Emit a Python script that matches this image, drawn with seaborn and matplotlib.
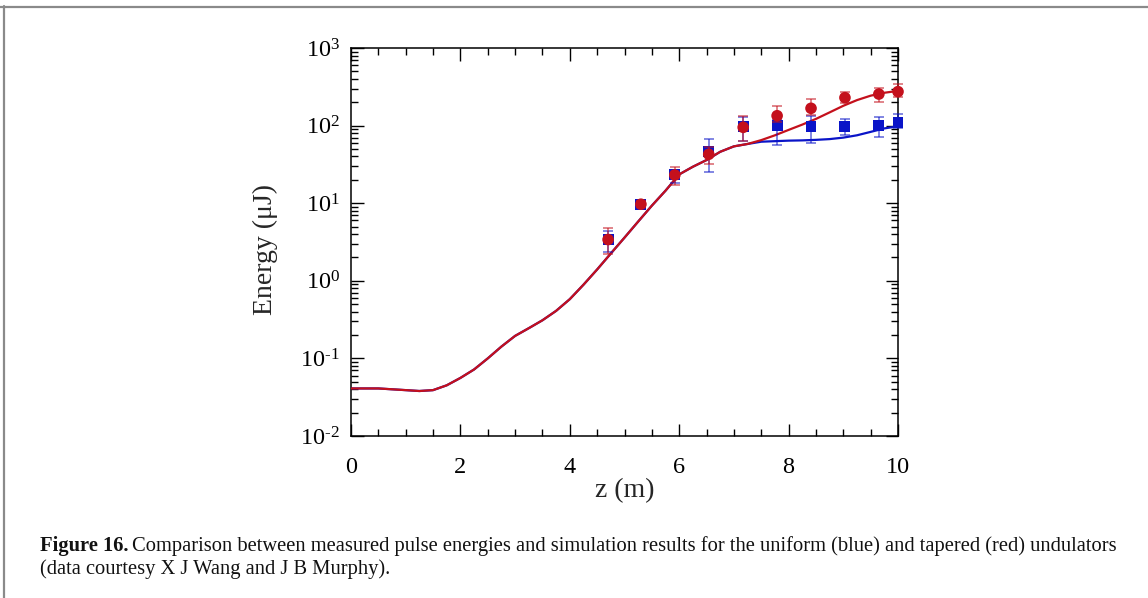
import matplotlib
matplotlib.use("Agg")
import matplotlib.pyplot as plt
import seaborn as sns
import numpy as np
from matplotlib.ticker import MultipleLocator, LogLocator, FuncFormatter, NullFormatter
from matplotlib.lines import Line2D

# ---- measured pulse energies (uJ) ----
z_meas = [4.70, 5.30, 5.92, 6.54, 7.17, 7.79, 8.41, 9.03, 9.65, 10.0]

uniform_E = [3.4, 9.7, 23.6, 46.0, 97.0, 99.0, 97.0, 97.0, 99.0, 110.0]
uniform_lo = [2.37, 8.9, 18.4, 25.5, 64.0, 57.0, 60.0, 76.0, 71.0, 93.0]
uniform_hi = [4.38, 10.6, 26.8, 67.0, 129.0, 118.0, 134.0, 120.0, 130.0, 140.0]

tapered_E = [3.4, 9.7, 23.1, 42.7, 95.0, 134.0, 167.0, 229.0, 255.0, 274.0]
tapered_lo = [2.21, 8.9, 17.0, 31.7, 63.0, 111.0, 137.0, 194.0, 200.0, 236.0]
tapered_hi = [4.79, 10.6, 29.0, 52.5, 133.0, 180.0, 220.0, 274.0, 302.0, 340.0]

# ---- simulated energy along the undulator ----
z_sim = [0.0, 0.5, 1.0, 1.25, 1.5, 1.75, 2.0, 2.25, 2.5, 2.75, 3.0, 3.25, 3.5,
         3.75, 4.0, 4.25, 4.5, 4.75, 5.0, 5.25, 5.5, 5.75, 6.0, 6.25, 6.5,
         6.75, 7.0, 7.25, 7.5, 7.75, 8.0, 8.25, 8.5, 8.75, 9.0, 9.25, 9.5,
         9.75, 10.0]
uniform_sim = [0.041, 0.041, 0.039, 0.038, 0.039, 0.045, 0.056, 0.072, 0.100,
               0.142, 0.195, 0.245, 0.31, 0.41, 0.58, 0.89, 1.40, 2.25, 3.6,
               5.8, 9.3, 14.5, 23.5, 29.5, 36.0, 46.0, 54.0, 58.0, 62.0, 63.0,
               64.0, 64.5, 65.5, 67.0, 70.0, 75.0, 83.0, 92.0, 98.0]
tapered_sim = [0.041, 0.041, 0.039, 0.038, 0.039, 0.045, 0.056, 0.072, 0.100,
               0.142, 0.195, 0.245, 0.31, 0.41, 0.58, 0.89, 1.40, 2.25, 3.6,
               5.8, 9.3, 14.5, 23.5, 29.5, 36.0, 46.0, 54.0, 58.0, 65.0, 75.0,
               88.0, 103.0, 122.0, 148.0, 180.0, 213.0, 243.0, 265.0, 280.0]

x_ticks = [0, 2, 4, 6, 8, 10]

BLUE = "#0a14c8"
RED = "#c4101c"

sns.set_theme(style="ticks")
plt.rcParams["font.family"] = ["Liberation Serif", "DejaVu Serif"]
plt.rcParams["mathtext.fontset"] = "custom"
plt.rcParams["mathtext.rm"] = "Liberation Serif"
plt.rcParams["axes.unicode_minus"] = False

fig = plt.figure(figsize=(11.48, 5.98), dpi=100)
ax = fig.add_axes([351 / 1148, 1 - 436 / 598, 547 / 1148, 388 / 598])
ax.set_yscale("log")

# simulation curves
sns.lineplot(x=z_sim, y=uniform_sim, color=BLUE, linewidth=1.6, ax=ax, zorder=2)
sns.lineplot(x=z_sim, y=tapered_sim, color=RED, linewidth=1.6, ax=ax, zorder=3)

# measurements with error bars
u = np.array(uniform_E)
t = np.array(tapered_E)
eb_u = ax.errorbar(z_meas, u, yerr=[u - np.array(uniform_lo), np.array(uniform_hi) - u],
                   fmt="none", ecolor=BLUE, alpha=0.65, elinewidth=1.1, capsize=3.8,
                   capthick=1.1, zorder=4)
sns.scatterplot(x=z_meas, y=uniform_E, marker="s", s=62, color=BLUE,
                edgecolor="none", linewidth=0, ax=ax, zorder=5)
eb_t = ax.errorbar(z_meas, t, yerr=[t - np.array(tapered_lo), np.array(tapered_hi) - t],
                   fmt="none", ecolor=RED, alpha=0.65, elinewidth=1.1, capsize=3.8,
                   capthick=1.1, zorder=6)
sns.scatterplot(x=z_meas, y=tapered_E, marker="o", s=70, color=RED,
                edgecolor="none", linewidth=0, ax=ax, zorder=7)

# let the markers at the right edge spill over the frame
for coll in ax.collections:
    coll.set_clip_on(False)
for eb in (eb_u, eb_t):
    for part in eb.lines[1]:
        part.set_clip_on(False)
    for part in eb.lines[2]:
        part.set_clip_on(False)

ax.set_xlim(0, 10)
ax.set_ylim(1e-2, 1e3)
ax.xaxis.set_minor_locator(MultipleLocator(0.5))
ax.set_xticks(x_ticks)
ax.set_xticklabels([str(v) for v in x_ticks])
ax.yaxis.set_major_locator(LogLocator(base=10, numticks=10))
ax.yaxis.set_minor_locator(LogLocator(base=10, subs=np.arange(2, 10), numticks=10))


def decade_label(v, pos):
    k = int(round(np.log10(v)))
    if k < 0:
        return r"$\mathregular{10^{\text{-}%d}}$" % (-k)
    return r"$\mathregular{10^{%d}}$" % k


ax.yaxis.set_major_formatter(FuncFormatter(decade_label))
ax.yaxis.set_minor_formatter(NullFormatter())

for s in ax.spines.values():
    s.set_linewidth(1.1)
    s.set_color("black")
ax.tick_params(which="both", direction="in", top=True, right=True, colors="black")
ax.tick_params(which="major", length=9, width=1.0, labelsize=17.5)
ax.tick_params(which="minor", length=4.7, width=1.0)
ax.tick_params(axis="x", which="major", pad=15)
ax.tick_params(axis="y", which="major", pad=8)

ax.set_xlabel("z (m)", fontsize=20)
ax.set_ylabel("Energy (\u03bcJ)", fontsize=20)
ax.xaxis.set_label_coords(0.5, -0.14)
ax.xaxis.label.set_verticalalignment("center")
ax.yaxis.set_label_coords(-0.157, 0.48)
ax.yaxis.label.set_verticalalignment("center")

# page frame (top and left rules)
fig.add_artist(Line2D([0, 1], [1 - 7 / 598, 1 - 7 / 598], transform=fig.transFigure,
                      color="#8a8a8a", linewidth=1.6))
fig.add_artist(Line2D([4 / 1148, 4 / 1148], [0, 1 - 6 / 598], transform=fig.transFigure,
                      color="#8a8a8a", linewidth=1.6))

# caption
cap_size = 14.8
y1 = 1 - 551 / 598
y2 = 1 - 574 / 598
lead = fig.text(40 / 1148, y1, "Figure 16.", fontsize=cap_size, fontweight="bold",
                va="baseline", ha="left", color="#111111")
fig.canvas.draw()
bb = lead.get_window_extent()
rest = fig.text((bb.x1 + 4) / 1148, y1,
                "Comparison between measured pulse energies and simulation results for the "
                "uniform (blue) and tapered (red) undulators",
                fontsize=cap_size, va="baseline", ha="left", color="#111111")
fig.text(40 / 1148, y2, "(data courtesy X J Wang and J B Murphy).",
         fontsize=cap_size, va="baseline", ha="left", color="#111111")

fig.savefig("out.png", dpi=100)
